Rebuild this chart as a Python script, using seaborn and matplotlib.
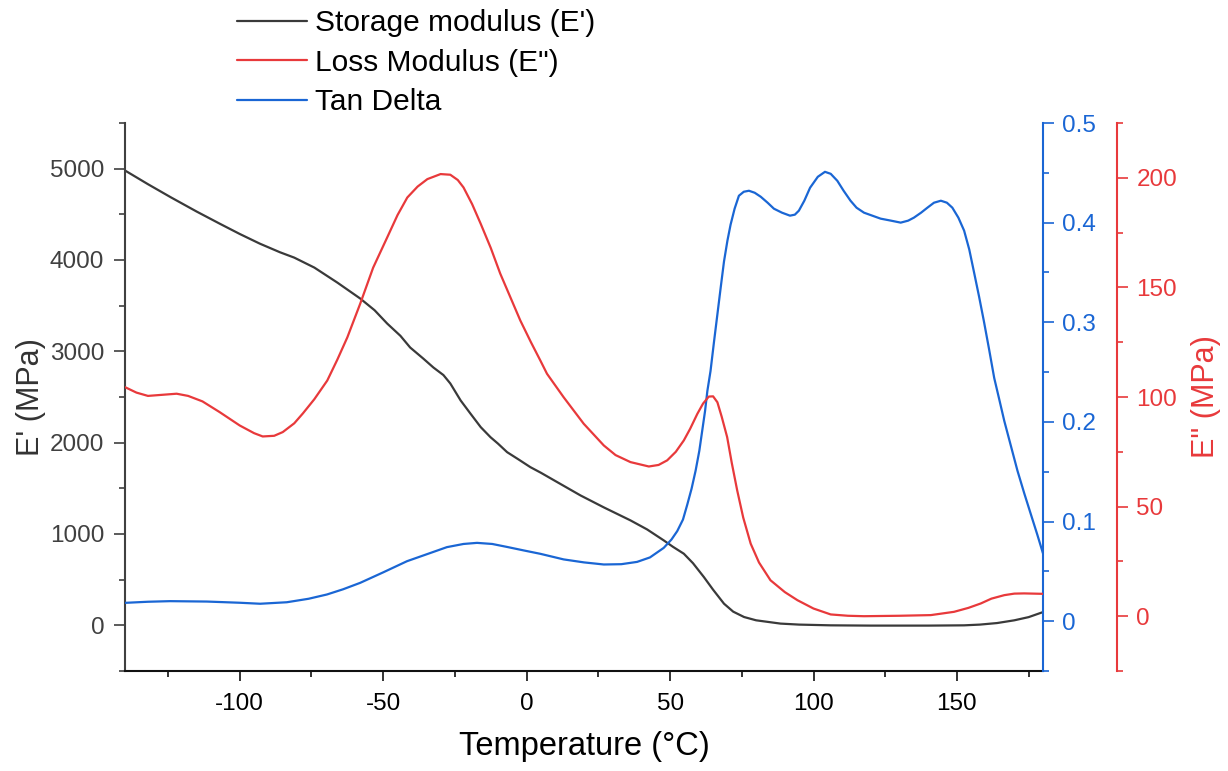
import numpy as np
import pandas as pd
import matplotlib
matplotlib.use("Agg")
import matplotlib.pyplot as plt
from matplotlib.ticker import MultipleLocator
import seaborn as sns

# ---------------- data ----------------
T_storage = [-140, -132, -124, -115, -107, -100, -93, -86, -81, -74, -66, -58, -53, -48.6,
             -44, -40.6, -36, -32.5, -29, -26.6, -23, -19.6, -16, -12.6, -10, -6.8, -3, 1.3,
             5, 10, 18.8, 27, 36.2, 42, 47.8, 51, 54.8, 58, 61.8, 65, 68.8, 72, 75.8, 80,
             88.5, 95, 106, 120, 140, 152.5, 158, 164, 170, 175, 180]
E_storage = [4980, 4830, 4686, 4530, 4398, 4285, 4179, 4085, 4026, 3917, 3753, 3578, 3450, 3304,
             3170, 3042, 2920, 2823, 2740, 2648, 2462, 2319, 2170, 2060, 1990, 1896, 1820, 1732,
             1670, 1580, 1422, 1290, 1149, 1050, 930, 860, 784, 680, 528, 390, 237, 150, 91, 55,
             19, 8, 0, -3, -3, 0, 8, 25, 55, 90, 145]

T_loss = [-140, -136, -132, -127, -122, -118, -113, -107, -100, -95, -92, -88, -85, -81, -78,
          -74, -69.5, -66, -62.5, -58, -53.5, -48.6, -45, -41.6, -38, -34.6, -30, -26.6, -24,
          -22, -19, -16, -12.5, -9.2, -5.5, -2.2, 1.5, 4.8, 7.1, 12.9, 19.9, 26.9, 31, 36.2,
          42.6, 46, 49, 52, 54.8, 57, 59.5, 61.5, 63.5, 65, 66.5, 68, 69.9, 71.5, 73.4, 75.5,
          78.1, 81, 85, 90, 94.4, 100, 106, 112, 117.6, 130, 140.9, 149, 154, 158.3, 162,
          166.5, 170, 173.4, 180]
E_loss = [104.5, 102, 100.5, 101, 101.5, 100.5, 98, 93.1, 87, 83.5, 82, 82.3, 84, 88, 92.5,
          99, 107.5, 117, 127.2, 142.6, 159, 172.8, 183, 191, 196, 199.4, 201.7, 201.4, 199,
          195.6, 188, 179, 168, 156.3, 145, 134.9, 125, 116.6, 110.6, 99.9, 87.8, 77.9, 73.5,
          70.3, 68.3, 69, 71.1, 75, 80.2, 85.5, 92.3, 97, 100.2, 100.3, 97.6, 91, 81.7, 70,
          57.4, 45, 33.1, 24.5, 16.4, 11, 7.3, 3.5, 0.8, 0.2, 0, 0.2, 0.5, 2, 3.8, 5.8, 8,
          9.6, 10.3, 10.4, 10.2]

T_tan = [-140, -132, -124.3, -111.5, -100, -92.9, -83.6, -76, -69.6, -64, -58, -50, -41.7,
         -34, -27.8, -22, -17.3, -12, -6.8, -1, 4.8, 12.9, 20, 26.9, 33, 38.5, 43, 47.8, 50.5,
         52.5, 54.5, 56, 57.5, 58.9, 60.2, 61.2, 62.2, 63, 64.1, 65.3, 66.5, 67.7, 68.8, 70,
         71.1, 72.5, 74, 75.7, 77.5, 79.5, 81.6, 84, 86.2, 89, 91.8, 93.5, 94.9, 96.8, 98.8,
         101.5, 104, 106, 108.3, 110.5, 112.9, 115, 117.6, 120.5, 123.4, 127, 130.4, 133, 135,
         137.5, 139.7, 142, 144.4, 146.5, 148.4, 150.5, 152.5, 154.3, 155.9, 157.7, 159.4,
         161.2, 163, 164.8, 166.5, 168.8, 171.1, 173.5, 175.8, 178, 180]
tan_delta = [0.0184, 0.0195, 0.0201, 0.0197, 0.0185, 0.0175, 0.0190, 0.0225, 0.0268, 0.032,
             0.0385, 0.049, 0.0602, 0.068, 0.0743, 0.0775, 0.0786, 0.0775, 0.0745, 0.071,
             0.0676, 0.062, 0.059, 0.0569, 0.0572, 0.0595, 0.064, 0.0736, 0.082, 0.0904, 0.102,
             0.117, 0.133, 0.151, 0.171, 0.191, 0.211, 0.231, 0.251, 0.28, 0.308, 0.336, 0.361,
             0.382, 0.398, 0.414, 0.427, 0.431, 0.432, 0.430, 0.426, 0.420, 0.414, 0.410, 0.407,
             0.408, 0.412, 0.422, 0.435, 0.446, 0.451, 0.449, 0.442, 0.432, 0.422, 0.415, 0.410,
             0.407, 0.404, 0.402, 0.400, 0.402, 0.405, 0.410, 0.415, 0.420, 0.422, 0.420, 0.415,
             0.405, 0.392, 0.373, 0.351, 0.326, 0.301, 0.273, 0.244, 0.222, 0.201, 0.176, 0.151,
             0.128, 0.107, 0.087, 0.068]

labels = ["Storage modulus (E')", 'Loss Modulus (E")', "Tan Delta"]

# ---------------- style ----------------
sns.set_theme(style="ticks")
plt.rcParams["font.family"] = ["Liberation Sans", "DejaVu Sans"]
plt.rcParams["axes.unicode_minus"] = False

C_BLACK = "#3a3a3a"
C_RED = "#e8393b"
C_BLUE = "#1a66d4"
C_AX = "#404040"

fig = plt.figure(figsize=(12.28, 7.71), dpi=100)
ax = fig.add_axes([125 / 1228, 1 - 671 / 771, (1043 - 125) / 1228, (671 - 123) / 771])
ax_tan = ax.twinx()
ax_loss = ax.twinx()
ax_loss.spines["right"].set_position(("outward", 74 * 72 / 100))

df_s = pd.DataFrame({"T": T_storage, "v": E_storage})
df_l = pd.DataFrame({"T": T_loss, "v": E_loss})
df_t = pd.DataFrame({"T": T_tan, "v": tan_delta})

lw = 1.6
sns.lineplot(data=df_s, x="T", y="v", ax=ax, color=C_BLACK, lw=lw, legend=False)
sns.lineplot(data=df_l, x="T", y="v", ax=ax_loss, color=C_RED, lw=lw, legend=False)
sns.lineplot(data=df_t, x="T", y="v", ax=ax_tan, color=C_BLUE, lw=lw, legend=False)

ax.set_xlim(-140, 180)
ax.set_ylim(-500, 5500)
ax_tan.set_ylim(-0.05, 0.5)
ax_loss.set_ylim(-25, 225)

ax.xaxis.set_major_locator(MultipleLocator(50))
ax.xaxis.set_minor_locator(MultipleLocator(25))
ax.set_yticks([0, 1000, 2000, 3000, 4000, 5000])
ax.yaxis.set_minor_locator(MultipleLocator(500))
ax_tan.set_yticks([0, 0.1, 0.2, 0.3, 0.4, 0.5])
ax_tan.set_yticklabels(["0", "0.1", "0.2", "0.3", "0.4", "0.5"])
ax_tan.yaxis.set_minor_locator(MultipleLocator(0.05))
ax_loss.set_yticks([0, 50, 100, 150, 200])
ax_loss.yaxis.set_minor_locator(MultipleLocator(25))

fs_tick = 17.5
fs_lab = 22
sw = 1.5
for a in (ax, ax_tan, ax_loss):
    a.spines["top"].set_visible(False)
    a.grid(False)
    a.set_xlabel("")
    a.set_ylabel("")

ax.spines["right"].set_visible(False)
ax.spines["left"].set_color(C_AX)
ax.spines["bottom"].set_color("#111111")
ax.spines["left"].set_linewidth(sw)
ax.spines["bottom"].set_linewidth(sw)
ax.tick_params(axis="x", which="major", length=7, width=1.2, colors="#111111",
               labelsize=fs_tick, pad=9, labelcolor="black")
ax.tick_params(axis="x", which="minor", length=4, width=1.2, colors="#111111")
ax.tick_params(axis="y", which="major", length=8, width=1.2, colors=C_AX,
               labelsize=fs_tick, pad=7)
ax.tick_params(axis="y", which="minor", length=4.5, width=1.2, colors=C_AX)

for a, c in ((ax_tan, C_BLUE), (ax_loss, C_RED)):
    a.spines["left"].set_visible(False)
    a.spines["bottom"].set_visible(False)
    a.spines["right"].set_color(c)
    a.spines["right"].set_linewidth(sw)
    a.tick_params(axis="y", which="major", length=8, width=1.2, colors=c,
                  labelsize=fs_tick, pad=6)
    a.tick_params(axis="y", which="minor", length=4.5, width=1.2, colors=c)

ax.set_xlabel("Temperature (°C)", fontsize=23.5, color="black", labelpad=11)
ax.set_ylabel("E' (MPa)", fontsize=fs_lab, color="#333333", labelpad=3)
ax_loss.set_ylabel('E" (MPa)', fontsize=fs_lab, color=C_RED, labelpad=10)

handles = [ax.lines[0], ax_loss.lines[0], ax_tan.lines[0]]
fig.legend(handles, labels, loc="upper left", bbox_to_anchor=(237 / 1228, 1 - 9 / 771),
           bbox_transform=fig.transFigure, frameon=False, fontsize=21.5,
           handlelength=2.34, handletextpad=0.27, labelspacing=0.39,
           borderaxespad=0, borderpad=0, labelcolor="black")

fig.savefig("out.png", dpi=100)
